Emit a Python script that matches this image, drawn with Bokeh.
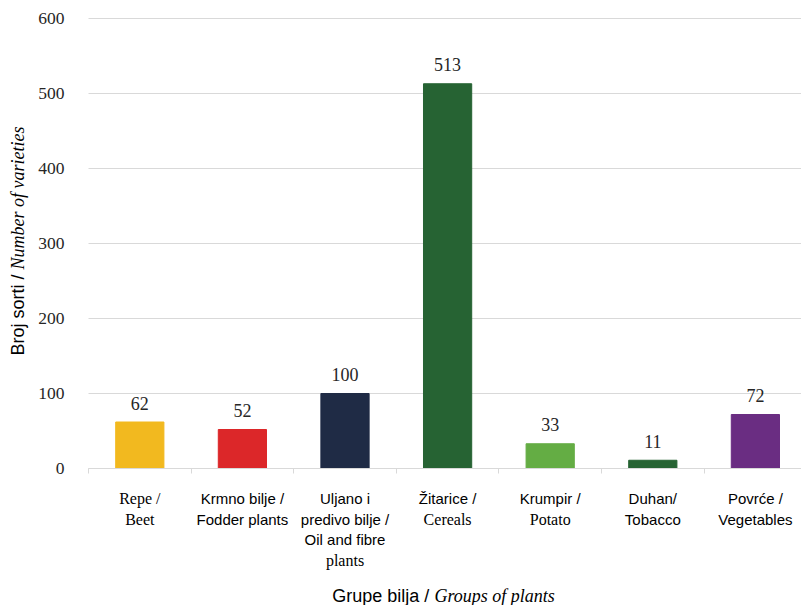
import math
from bokeh.plotting import figure
from bokeh.models import ColumnDataSource, LabelSet, Label, Range1d, FixedTicker
from bokeh.core.properties import value
from bokeh.embed import file_html
from bokeh.resources import INLINE

# ---- data ----
cat_lines = [
    ["Repe /", "Beet"],
    ["Krmno bilje /", "Fodder plants"],
    ["Uljano i", "predivo bilje /", "Oil and fibre", "plants"],
    ["Žitarice /", "Cereals"],
    ["Krumpir /", "Potato"],
    ["Duhan/", "Tobacco"],
    ["Povrće /", "Vegetables"],
]
cat_line_serif = [
    [True, True],
    [False, False],
    [False, False, False, True],
    [False, True],
    [False, True],
    [False, False],
    [False, False],
]
values = [62, 52, 100, 513, 33, 11, 72]
bar_colors = ["#F2B91F", "#DC2729", "#1F2B45", "#266333", "#64AD44", "#266333", "#6A2D82"]
y_ticks = [0, 100, 200, 300, 400, 500, 600]
y_title_a = "Broj sorti /"
y_title_b = "Number of varieties"
x_title_a = "Grupe bilja /"
x_title_b = "Groups of plants"

SERIF = "Liberation Serif"
SANS = "Liberation Sans"

# ---- layout (pixels) ----
W, H = 801, 605
left_px, top_px, bottom_px = 88, 18, 468
cat_px = 102.6
y_px = (bottom_px - top_px) / 600.0

n = len(values)
xpos = [i + 0.5 for i in range(n)]

x_start = -left_px / cat_px
x_end = (W - left_px) / cat_px
y_end = 600 + top_px / y_px
y_start = -(H - bottom_px) / y_px

p = figure(width=W, height=H, output_backend="svg", toolbar_location=None,
           x_range=Range1d(x_start, x_end), y_range=Range1d(y_start, y_end),
           min_border=0, min_border_left=0, min_border_right=0,
           min_border_top=0, min_border_bottom=0)
p.title.visible = False
p.outline_line_color = None
p.background_fill_color = "white"
p.border_fill_color = "white"
p.xgrid.visible = False
p.ygrid.visible = False

# y axis (fixed at x=0 inside the canvas-sized frame)
p.yaxis.fixed_location = 0
p.yaxis.bounds = (0, 600)
p.yaxis.ticker = FixedTicker(ticks=y_ticks)
p.yaxis.axis_line_color = None
p.yaxis.major_tick_line_color = None
p.yaxis.minor_tick_line_color = None
p.yaxis.major_label_text_font = SERIF
p.yaxis.major_label_text_font_size = "17.5px"
p.yaxis.major_label_text_color = "#262626"
p.yaxis.major_label_standoff = 18

# x axis (category boundary ticks only, no tick labels)
x_ticks = list(range(n + 1))
p.xaxis.fixed_location = 0
p.xaxis.bounds = (0, n)
p.xaxis.ticker = FixedTicker(ticks=x_ticks)
p.xaxis.major_label_overrides = {t: "" for t in x_ticks}
p.xaxis.axis_line_color = "#D9D9D9"
p.xaxis.major_tick_line_color = "#D9D9D9"
p.xaxis.major_tick_out = 5
p.xaxis.major_tick_in = 0
p.xaxis.minor_tick_line_color = None

# horizontal gridlines over the category span
p.segment(x0=[0] * len(y_ticks), x1=[n] * len(y_ticks), y0=y_ticks, y1=y_ticks,
          line_color="#D9D9D9", line_width=1, level="underlay")

src = ColumnDataSource(dict(x=xpos, v=values, c=bar_colors, t=[str(v) for v in values]))
p.vbar(x="x", top="v", bottom=0, width=0.47, fill_color="c", line_color="c", source=src)

p.add_layout(LabelSet(x="x", y="v", text="t", source=src, y_offset=19,
                      text_align="center", text_baseline="middle",
                      text_font=value(SERIF), text_font_size=value("18px"),
                      text_color="#262626"))

# category labels (line by line, mixed fonts)
serif_d = dict(x=[], y=[], off=[], t=[])
sans_d = dict(x=[], y=[], off=[], t=[])
for i, (lines, serifs) in enumerate(zip(cat_lines, cat_line_serif)):
    for j, (txt, s) in enumerate(zip(lines, serifs)):
        d = serif_d if s else sans_d
        d["x"].append(xpos[i])
        d["y"].append(0)
        d["off"].append(-(30 + 20.6 * j))
        d["t"].append(txt)

p.add_layout(LabelSet(x="x", y="y", y_offset="off", text="t", source=ColumnDataSource(serif_d),
                      text_align="center", text_baseline="middle",
                      text_font=value(SERIF), text_font_size=value("16px"),
                      text_color="black"))
p.add_layout(LabelSet(x="x", y="y", y_offset="off", text="t", source=ColumnDataSource(sans_d),
                      text_align="center", text_baseline="middle",
                      text_font=value(SANS), text_font_size=value("15px"),
                      text_color="black"))

# axis titles (mixed fonts)
p.add_layout(Label(x=0, y=0, x_offset=-70.5, y_offset=194, angle=math.pi / 2,
                   text=y_title_a, text_align="right", text_baseline="middle",
                   text_font=SANS, text_font_size="18px", text_color="black"))
p.add_layout(Label(x=0, y=0, x_offset=-70.5, y_offset=199, angle=math.pi / 2,
                   text=y_title_b, text_align="left", text_baseline="middle",
                   text_font=SERIF, text_font_style="italic", text_font_size="18px",
                   text_color="black"))
p.add_layout(Label(x=0, y=0, x_offset=340.7, y_offset=-127,
                   text=x_title_a, text_align="right", text_baseline="middle",
                   text_font=SANS, text_font_size="18px", text_color="black"))
p.add_layout(Label(x=0, y=0, x_offset=346, y_offset=-127,
                   text=x_title_b, text_align="left", text_baseline="middle",
                   text_font=SERIF, text_font_style="italic", text_font_size="18px",
                   text_color="black"))

open("out.html", "w").write(file_html(p, INLINE))
